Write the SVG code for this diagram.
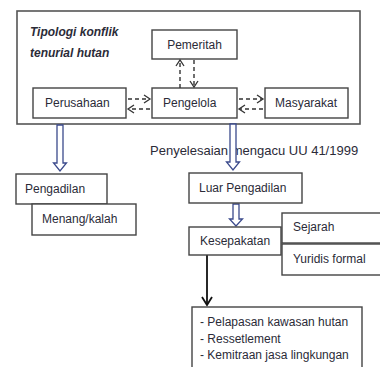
<svg xmlns="http://www.w3.org/2000/svg" width="380" height="367" viewBox="0 0 380 367">
<defs>
<style>
.box{fill:#fff;stroke:#444;stroke-width:1.4}
.t{font-family:"Liberation Sans",Arial,sans-serif;font-size:12px;fill:#2b2b38}
.ti{font-family:"Liberation Sans",Arial,sans-serif;font-size:12px;font-weight:bold;font-style:italic;fill:#2b2b38}
.dash{fill:none;stroke:#333;stroke-width:1.4;stroke-dasharray:4 3}
.head{fill:none;stroke:#333;stroke-width:1.3}
.hollow{fill:#fff;stroke:#3b4a8c;stroke-width:1.3}
</style>
</defs>
<rect width="380" height="367" fill="#fff"/>
<g id="frame">
<rect x="17" y="11" width="343" height="113" fill="none" stroke="#555" stroke-width="1.6"/>
<text class="ti" x="30" y="36">Tipologi konflik</text>
<text class="ti" x="30" y="57">tenurial hutan</text>
</g>
<g id="pemeritah"><rect class="box" x="152" y="30" width="85" height="29"/><text class="t" x="194.5" y="49" text-anchor="middle">Pemeritah</text></g>
<g id="perusahaan"><rect class="box" x="33" y="88" width="93" height="30"/><text class="t" x="45" y="107">Perusahaan</text></g>
<g id="pengelola"><rect class="box" x="152" y="88" width="85" height="30"/><text class="t" x="163" y="107">Pengelola</text></g>
<g id="masyarakat"><rect class="box" x="265" y="88" width="83" height="30"/><text class="t" x="275" y="107">Masyarakat</text></g>
<g id="penyelesaian"><text class="t" x="150" y="155" style="font-size:13px">Penyelesaian mengacu UU 41/1999</text></g>
<g id="connectors">
<path class="dash" d="M180 88V61"/><path class="head" d="M176 66L180 60L184 66"/>
<path class="dash" d="M194 60V86"/><path class="head" d="M190 81L194 87L198 81"/>
<path class="dash" d="M128 99H149"/><path class="head" d="M144 95L150 99L144 103"/>
<path class="dash" d="M150 109H129"/><path class="head" d="M134 105L128 109L134 113"/>
<path class="dash" d="M239 99H262"/><path class="head" d="M257 95L263 99L257 103"/>
<path class="dash" d="M263 109H240"/><path class="head" d="M245 105L239 109L245 113"/>
<path class="hollow" d="M57 125V163H53.5L60 171L66.5 163H63V125Z"/>
<path class="hollow" d="M230 124V162H226.5L233 170L239.5 162H236V124Z"/>
<path class="hollow" d="M233 204V219H229.5L236 226L242.5 219H239V204Z"/>
<path d="M207 255V304" stroke="#111" stroke-width="1.8" fill="none"/>
<path d="M202 297L207 305L212 297" stroke="#111" stroke-width="1.8" fill="none"/>
</g>
<g id="pengadilan"><rect class="box" x="16" y="174" width="91" height="30"/><text class="t" x="25" y="193">Pengadilan</text></g>
<g id="menang"><rect class="box" x="32" y="204" width="104" height="31"/><text class="t" x="42" y="223">Menang/kalah</text></g>
<g id="luar"><rect class="box" x="189" y="173" width="113" height="30"/><text class="t" x="199" y="192">Luar Pengadilan</text></g>
<g id="kesepakatan"><rect class="box" x="189" y="227" width="92" height="28"/><text class="t" x="200" y="245">Kesepakatan</text></g>
<g id="sejarah"><rect class="box" x="282" y="213" width="110" height="30"/><text class="t" x="293" y="231">Sejarah</text></g>
<g id="yuridis"><rect class="box" x="282" y="244" width="110" height="31"/><text class="t" x="293" y="263">Yuridis formal</text></g>
<g id="hasil"><rect class="box" x="192" y="307" width="170" height="70"/>
<text class="t" x="200" y="326">- Pelapasan kawasan hutan</text>
<text class="t" x="200" y="343">- Ressetlement</text>
<text class="t" x="200" y="359">- Kemitraan jasa lingkungan</text>
</g>
</svg>
